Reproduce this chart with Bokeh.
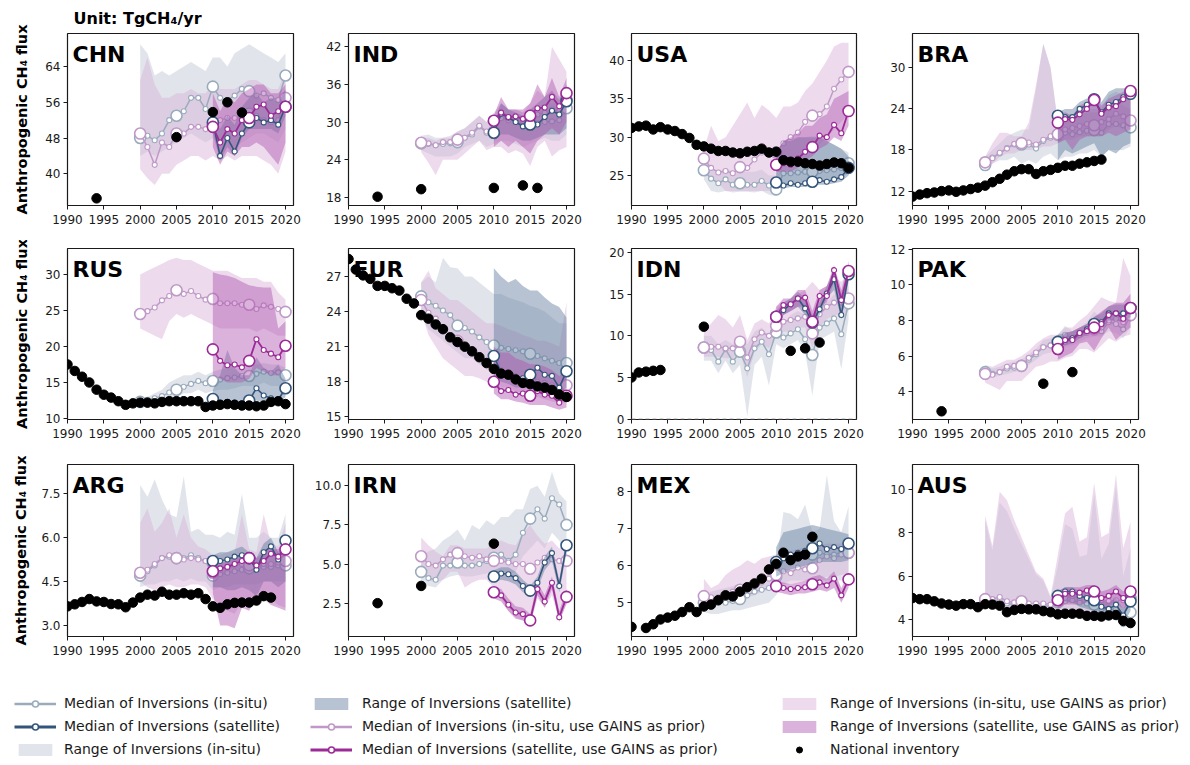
from bokeh.plotting import figure
from bokeh.models import Range1d, FixedTicker, PrintfTickFormatter, Label, Legend, LegendItem, Span
from bokeh.layouts import row, column
from bokeh.embed import file_html
from bokeh.resources import INLINE

FONT = "DejaVu Sans"

# ---------------- data ----------------
YA = list(range(2000, 2021))      # in-situ inversions years
YS = list(range(2010, 2021))      # satellite inversions years
FULL = list(range(1990, 2021))
XTICKS = [1990, 1995, 2000, 2005, 2010, 2015, 2020]

CHN_INS = [48, 48.5, 47.5, 49, 52, 53, 54, 57, 57, 54.5, 59.5, 57, 56.5, 57.5, 59, 58.5, 57.5, 58, 57, 56.5, 62]
CHN_INSG = [49, 46, 42, 47, 46, 49, 49, 50.5, 50.5, 50, 51, 52, 52.5, 52.5, 53, 53.5, 53, 52, 51.5, 52, 57]
CHN_SAT = [51.5, 44, 48, 45, 49, 51.5, 52.5, 51.5, 52, 51, 55]
CHN_SATG = [50.5, 47, 50, 49, 52, 52.5, 55, 55.5, 53, 54, 55]
CHN_INS_LO = [44, 45, 44, 45, 46, 47, 48, 49, 48, 47, 48, 46, 47, 46, 47, 48, 49, 49, 48, 47, 50]
CHN_INS_HI = [69, 67, 62, 63, 62, 63, 64, 65, 64, 63, 66, 66, 64, 67, 68, 69, 68, 67, 66, 65, 67]
CHN_INSG_LO = [41, 39, 37.5, 40, 40, 42, 43, 44, 44, 43, 44, 43, 44, 43, 44, 44, 44, 43, 42, 40, 45]
CHN_INSG_HI = [61, 66, 60, 57, 57, 58, 58, 59, 58, 58, 60, 59, 59, 59, 60, 61, 61, 60, 59, 59, 63]
CHN_SAT_LO = [49, 43, 46, 44, 48, 50, 50, 50, 50, 49, 53]
CHN_SAT_HI = [54, 50, 53, 51, 55, 57, 58, 56, 57, 56, 59]
CHN_SATG_LO = [46, 42, 45, 44, 46, 46, 47, 46, 44, 42, 47]
CHN_SATG_HI = [58, 54, 57, 56, 58, 59, 60, 60, 58, 58, 60]
CHN_INV_YR = [1994, 2005, 2010, 2012, 2014]
CHN_INV = [34.5, 48.2, 53.8, 56.0, 53.7]

IND_INS = [26.6, 26.5, 26.3, 26.5, 26.6, 26.8, 27.5, 28.0, 29.3, 28.3, 28.3, 30.8, 30.6, 30.4, 29.5, 29.6, 29.8, 30.0, 30.1, 30.3, 32.2]
IND_INSG = [26.7, 26.6, 26.3, 26.8, 26.8, 27.2, 27.5, 28.3, 29.4, 28.5, 28.5, 30.6, 30.3, 30.6, 30.2, 30.6, 31.2, 31.5, 32.0, 31.8, 33.5]
IND_SAT = [28.3, 31.3, 30.7, 30.0, 29.3, 29.6, 29.6, 30.8, 31.8, 31.2, 33.3]
IND_SATG = [30.2, 31.5, 30.8, 30.9, 30.5, 31.0, 32.2, 32.3, 34.0, 32.5, 34.6]
IND_INS_LO = [25.5, 25, 24.5, 24.5, 24.5, 25, 26, 26.5, 27, 26, 26.5, 27, 27, 26.5, 26, 26.5, 27, 27.5, 27, 27, 28]
IND_INS_HI = [27.8, 28, 27.5, 27.5, 27.8, 28.5, 29, 30, 31, 30, 31.5, 33, 32, 32, 31.5, 32, 32.5, 33, 33, 33, 35]
IND_INSG_LO = [25.2, 23.5, 21.5, 24, 24, 24, 25, 26, 27, 25.5, 26, 26, 25, 25.5, 25, 23, 26, 27, 24.5, 25.5, 26]
IND_INSG_HI = [27.5, 27.5, 27, 27.5, 27.5, 28.5, 29, 30, 31, 30, 31, 33, 32, 32, 31.5, 33, 35, 34, 42, 40, 38]
IND_SAT_LO = [27, 28, 28, 27.5, 27, 27, 27.5, 28, 28, 28, 29]
IND_SAT_HI = [30, 33, 32, 31.5, 31, 32, 33, 34, 35, 33.5, 36]
IND_SATG_LO = [26, 27, 26, 27, 26, 25, 27, 28, 29, 28, 30]
IND_SATG_HI = [31, 34, 32, 32, 32, 33, 36, 34, 37, 34, 37]
IND_INV_YR = [1994, 2000, 2010, 2014, 2016]
IND_INV = [18.1, 19.3, 19.5, 19.9, 19.5]

USA_INS = [25.7, 24.6, 24.0, 24.5, 23.8, 24.0, 23.8, 23.8, 24.3, 23.7, 23.2, 25.3, 25.3, 25.4, 25.5, 25.5, 25.6, 25.7, 25.8, 26.0, 26.6]
USA_INSG = [27.2, 26.0, 25.4, 25.6, 25.3, 26.1, 26.0, 27.1, 28.0, 28.0, 28.0, 29.2, 30.0, 30.6, 32.0, 32.8, 33.0, 34.0, 36.3, 37.5, 38.5]
USA_SAT = [24.1, 23.7, 24.0, 23.8, 24.0, 24.2, 24.4, 24.2, 24.5, 24.8, 26.0]
USA_SATG = [26.4, 26.6, 26.4, 27.2, 28.1, 28.7, 30.2, 30.0, 31.6, 30.5, 33.4]
USA_INS_LO = [24.5, 23.0, 22.8, 23.0, 22.8, 22.9, 22.9, 22.8, 23.0, 22.5, 22.3, 24.0, 24.0, 24.0, 24.2, 24.3, 24.3, 24.4, 24.4, 24.6, 25.3]
USA_INS_HI = [27.0, 26.0, 25.5, 26.0, 25.5, 25.5, 25.5, 25.5, 25.8, 25.0, 25.0, 29.5, 29.8, 30.0, 30.0, 30.2, 30.0, 29.5, 29.0, 28.5, 28.0]
USA_INSG_LO = [25.5, 24.5, 24.0, 23.0, 23.0, 23.0, 23.0, 23.0, 23.0, 23.0, 23.0, 26.5, 27.0, 27.5, 28.0, 28.5, 29.0, 30.0, 31.0, 32.0, 33.0]
USA_INSG_HI = [28.5, 31.5, 29.5, 30.0, 31.5, 33.0, 34.5, 32.5, 34.2, 33.5, 32.5, 34.0, 34.0, 34.5, 36.0, 37.0, 38.5, 40.0, 41.8, 42.3, 42.3]
USA_SAT_LO = [23.5, 23.3, 23.5, 23.5, 23.5, 23.7, 23.8, 23.8, 24.0, 24.2, 25.0]
USA_SAT_HI = [28.0, 29.5, 29.5, 30.0, 30.0, 30.0, 30.0, 29.5, 29.0, 28.5, 27.5]
USA_SATG_LO = [25.5, 25.5, 25.5, 26.0, 27.0, 27.5, 28.5, 29.0, 30.0, 29.5, 31.5]
USA_SATG_HI = [28.0, 29.5, 30.0, 30.5, 31.5, 31.5, 32.5, 33.0, 35.0, 35.5, 36.0]
USA_INV_YR = FULL
USA_INV = [31.2, 31.4, 31.5, 31.0, 31.3, 31.0, 30.8, 30.4, 29.9, 29.0, 28.8, 28.5, 28.2, 28.2, 28.0, 27.9,
           28.1, 28.2, 28.5, 28.0, 28.1, 27.0, 26.8, 26.8, 26.6, 26.5, 26.3, 26.5, 26.7, 26.6, 26.0]

BRA_INS = [15.8, 16.9, 17.5, 18.3, 18.8, 18.8, 18.8, 18.2, 19.3, 19.8, 20.2, 20.5, 20.3, 20.6, 20.8, 20.9, 20.5, 21.8, 21.8, 21.6, 21.3]
BRA_INSG = [16.2, 16.8, 17.6, 18.2, 18.9, 19.0, 19.1, 18.8, 19.5, 20.0, 20.3, 21.0, 21.2, 21.5, 21.8, 21.6, 22.1, 22.5, 23.3, 22.9, 22.3]
BRA_SAT = [23.0, 22.8, 22.8, 24.0, 24.6, 25.4, 23.5, 24.6, 25.0, 25.7, 26.2]
BRA_SATG = [22.0, 22.5, 22.4, 23.2, 24.0, 25.3, 23.3, 24.2, 24.4, 25.4, 26.6]
BRA_INS_LO = [15.5, 16, 16.5, 16.5, 17, 16, 16.5, 16, 17, 17.5, 16.5, 17, 17, 17.5, 17.5, 18, 17, 18, 18, 18, 18.5]
BRA_INS_HI = [17, 18, 19, 20, 20.5, 21, 21, 27, 33.5, 30, 22, 23, 23, 23.5, 24, 24, 24, 26, 26.5, 26, 26]
BRA_INSG_LO = [15.5, 16, 17, 17.5, 17.5, 18, 18, 18, 18.5, 18.5, 19, 19.5, 19.5, 20, 20, 20, 20, 21, 21.5, 21, 21]
BRA_INSG_HI = [17, 19, 20.5, 20.5, 20, 20, 22, 27.5, 33.5, 30, 22, 23, 22.5, 23, 23.5, 23.5, 23.5, 24.5, 25, 24.5, 24]
BRA_SAT_LO = [16.5, 18, 17.5, 18, 18.5, 19, 17, 18, 17.5, 18.5, 19]
BRA_SAT_HI = [23.5, 24, 24, 25, 25.5, 26, 25, 26.5, 27, 27, 27]
BRA_SATG_LO = [19, 19.5, 18, 19.5, 20, 20, 20, 20.5, 20, 20.5, 21]
BRA_SATG_HI = [23, 23.5, 23, 24.5, 25, 26, 24.5, 25.5, 26, 26.5, 27]
BRA_INV_YR = list(range(1990, 2017))
BRA_INV = [11.2, 11.5, 11.7, 11.8, 12.0, 12.1, 11.9, 12.1, 12.3, 12.5, 12.8, 13.3, 13.8, 14.4, 14.9, 15.2,
           15.2, 14.5, 14.9, 15.1, 15.4, 15.7, 15.7, 16.0, 16.2, 16.4, 16.6]

RUS_INS = [12.3, 12.6, 12.8, 13.1, 13.6, 14.0, 14.4, 14.8, 15.2, 14.9, 15.2, 15.4, 15.6, 15.7, 15.9, 15.9, 16.2, 16.5, 16.3, 16.4, 16.0]
RUS_INSG = [24.5, 24.9, 25.4, 26.4, 27.0, 27.8, 27.3, 27.7, 27.0, 26.5, 26.6, 26.0, 26.0, 26.0, 25.8, 25.8, 25.2, 25.7, 25.5, 25.2, 24.8]
RUS_SAT = [12.7, 12.2, 12.3, 12.2, 12.1, 12.5, 14.2, 13.2, 12.8, 12.6, 14.2]
RUS_SATG = [19.6, 18.0, 17.4, 17.5, 17.1, 18.0, 21.0, 19.5, 19.0, 18.5, 20.1]
RUS_INS_LO = [11.8, 12, 12, 11.8, 12.5, 13, 13.5, 13.5, 14, 13.5, 13.8, 14, 14, 14.2, 14.5, 14.5, 14.5, 15, 14.5, 14.5, 14.5]
RUS_INS_HI = [12.8, 13, 13.5, 14, 15, 15.5, 16, 16, 16.5, 16, 16.5, 16.8, 17, 17.2, 17.3, 17.5, 17.5, 17.7, 17.5, 17.5, 17]
RUS_INSG_LO = [22.5, 22, 21.5, 21, 23.5, 24.5, 24, 24.5, 24, 23.5, 23, 22.5, 22.5, 22.5, 22.5, 22.5, 22, 22.5, 22, 21.5, 21.5]
RUS_INSG_HI = [30, 30.5, 31, 31.5, 32, 32.3, 32, 32, 31.5, 31, 30.5, 30.5, 30.5, 30, 29.5, 29.5, 29.5, 29, 29, 27.5, 26.5]
RUS_SAT_LO = [12, 11.8, 11.8, 11.8, 11.8, 12, 12.5, 12.2, 12, 12, 13]
RUS_SAT_HI = [14, 16, 19.5, 17, 16, 16, 18.5, 17, 16.5, 17.5, 15.5]
RUS_SATG_LO = [16, 15.5, 15, 15, 15, 15.5, 17, 16.5, 16, 16, 17]
RUS_SATG_HI = [30.3, 30, 29.8, 29.5, 29, 28.5, 28.3, 28.2, 28.2, 22.5, 23.5]
RUS_INV_YR = FULL
RUS_INV = [17.5, 16.6, 15.8, 15.0, 14.0, 13.3, 12.9, 12.4, 11.9, 12.1, 12.2, 12.2, 12.1, 12.3, 12.4, 12.4,
           12.4, 12.4, 12.4, 11.6, 11.8, 11.9, 12.0, 11.9, 11.8, 11.8, 11.7, 11.8, 12.3, 12.4, 12.0]

EUR_INS = [25.3, 24.8, 24.5, 24.1, 23.7, 22.8, 22.6, 22.3, 21.8, 21.4, 21.1, 20.9, 20.8, 20.7, 20.6, 20.4, 20.2, 20.0, 19.8, 19.6, 19.6]
EUR_INSG = [25.0, 23.9, 23.4, 22.6, 21.9, 21.5, 21.1, 20.7, 20.2, 19.8, 19.5, 19.0, 18.8, 18.5, 18.3, 18.2, 18.0, 17.9, 17.7, 17.3, 17.7]
EUR_SAT = [20.2, 18.8, 18.5, 18.3, 18.3, 18.6, 19.2, 18.6, 18.5, 17.5, 18.9]
EUR_SATG = [18.0, 17.2, 17.3, 16.9, 17.0, 16.8, 17.2, 16.9, 16.8, 16.2, 16.8]
EUR_INS_LO = [23.5, 22.5, 22, 21.5, 21, 20.5, 20, 20, 19.5, 19, 19, 18.8, 18.6, 18.5, 18.3, 18.2, 18, 18, 17.8, 17.5, 17.5]
EUR_INS_HI = [26.5, 27, 26.5, 28.6, 27.8, 27.7, 27, 27, 26.5, 26, 25.5, 25.5, 25.2, 25, 24.8, 24.5, 24.3, 24, 23.5, 23, 23]
EUR_INSG_LO = [24, 22, 21, 20, 19.5, 19, 18.5, 18.5, 18.3, 18, 17.8, 17.5, 17.5, 17.2, 17, 16.8, 16.7, 16.5, 16.3, 16.2, 16.2]
EUR_INSG_HI = [26.5, 27.5, 26, 25.5, 25, 25, 24.5, 24, 23.5, 23, 23, 22.8, 22.5, 22.3, 22, 21.8, 21.5, 21.5, 21.3, 21, 24.8]
EUR_SAT_LO = [18.5, 18, 17.8, 17.5, 17.5, 17.5, 17.5, 17.3, 17.2, 17, 17.5]
EUR_SAT_HI = [27.7, 27, 26.5, 26.8, 26.2, 25.8, 25.8, 25.2, 24.7, 24.4, 23.5]
EUR_SATG_LO = [17, 16.5, 16.5, 16.3, 16.2, 16, 16, 16, 15.8, 15.6, 15.8]
EUR_SATG_HI = [21, 20.5, 20.5, 20, 19.8, 19.5, 19.5, 19.3, 19, 18.5, 19]
EUR_INV_YR = FULL
EUR_INV = [28.5, 27.6, 27.1, 26.8, 26.2, 26.2, 26.0, 25.8, 25.1, 24.7, 23.7, 23.4, 22.9, 22.5, 21.8, 21.4,
           21.0, 20.6, 20.1, 19.6, 19.1, 18.7, 18.6, 18.2, 17.9, 17.8, 17.6, 17.5, 17.3, 16.9, 16.7]

IDN_INS = [8.6, 8.3, 6.9, 8.4, 6.9, 8.1, 6.1, 8.5, 9.3, 7.8, 10.4, 9.8, 10.3, 10.8, 9.6, 7.7, 11.0, 11.5, 12.1, 10.2, 13.9]
IDN_INSG = [8.6, 8.7, 8.7, 8.5, 8.5, 9.3, 7.4, 9.6, 10.4, 10.0, 11.2, 11.7, 11.9, 12.1, 12.3, 10.3, 12.6, 13.5, 14.0, 14.0, 14.5]
IDN_SAT = [12.3, 13.1, 13.8, 14.5, 13.3, 11.6, 13.2, 15.1, 16.8, 12.5, 17.4]
IDN_SATG = [12.3, 13.7, 13.8, 14.5, 14.6, 11.7, 14.8, 14.8, 17.9, 14.3, 17.8]
IDN_INS_LO = [7, 7, 5.5, 7, 5.5, 6.5, 0.3, 6.5, 7.5, 4, 9, 8.5, 9, 9.5, 8, 2.8, 9.5, 10, 10.5, 6, 12]
IDN_INS_HI = [10, 10, 9, 9.5, 9, 10, 9, 10.5, 11, 10, 12, 11.5, 12.5, 13, 12.5, 12, 13.5, 14, 15, 14, 16]
IDN_INSG_LO = [7.5, 7.5, 7.5, 7.3, 7.3, 8, 5, 8, 9, 8.5, 10, 10.5, 10.5, 11, 11, 8.5, 11, 12, 12.5, 12.5, 13]
IDN_INSG_HI = [10.5, 11.5, 12.5, 12, 11, 12.5, 9.5, 11.5, 12, 11.5, 13.5, 14, 14.5, 15, 15.5, 16.5, 15.5, 16, 17, 16.5, 17.5]
IDN_SAT_LO = [11.5, 12.5, 13, 13.5, 12.5, 11, 12.5, 14.5, 15.5, 12, 16.5]
IDN_SAT_HI = [13, 14, 14.5, 15.3, 14.5, 12.5, 14, 16, 18, 15, 18.5]
IDN_SATG_LO = [11.5, 12.5, 13, 13.5, 13.5, 11, 13.5, 14, 16.5, 13.5, 17]
IDN_SATG_HI = [13.5, 14.5, 14.5, 15.5, 15.5, 13, 15.5, 16, 18.5, 15.5, 19]
IDN_INV_YR = [1990, 1991, 1992, 1993, 1994, 2000, 2012, 2014, 2016]
IDN_INV = [5.0, 5.6, 5.7, 5.8, 5.9, 11.1, 8.2, 8.5, 9.2]

PAK_INS = [5.1, 5.0, 5.1, 5.3, 5.35, 5.45, 5.8, 6.1, 6.5, 6.6, 6.8, 7.2, 7.0, 7.2, 7.4, 7.6, 7.4, 7.9, 7.8, 7.5, 8.3]
PAK_INSG = [5.0, 4.95, 5.1, 5.4, 5.45, 5.45, 5.9, 6.2, 6.5, 6.6, 6.4, 6.8, 6.9, 7.2, 7.3, 7.5, 7.6, 8.0, 8.1, 7.9, 8.3]
PAK_SAT = [6.8, 6.9, 7.0, 7.3, 7.5, 7.8, 7.9, 8.4, 8.4, 8.4, 8.7]
PAK_SATG = [6.4, 6.9, 6.9, 7.3, 7.4, 7.6, 7.8, 8.3, 8.4, 8.1, 8.7]
PAK_INS_LO = [4.8, 4.8, 4.9, 5.0, 5.1, 5.2, 5.5, 5.8, 6.1, 6.2, 6.3, 6.5, 6.6, 6.8, 7.0, 7.1, 7.1, 7.4, 7.3, 7.0, 7.6]
PAK_INS_HI = [5.4, 5.3, 5.4, 5.6, 5.7, 5.8, 6.1, 6.4, 6.9, 7.0, 7.2, 7.7, 7.4, 7.6, 7.9, 8.5, 8.1, 8.5, 8.6, 8.6, 8.8]
PAK_INSG_LO = [4.5, 4.3, 4.1, 4.6, 4.6, 4.6, 5.0, 5.4, 5.5, 5.7, 5.7, 5.9, 6.0, 6.4, 6.4, 6.2, 6.6, 7.0, 6.8, 7.1, 7.2]
PAK_INSG_HI = [5.5, 5.4, 5.6, 5.8, 5.8, 6.0, 6.3, 6.7, 7.0, 7.2, 7.2, 7.6, 7.6, 8.0, 8.3, 8.8, 9.3, 9.1, 9.0, 11.5, 10.5]
PAK_SAT_LO = [6.5, 6.6, 6.7, 7.0, 7.2, 7.4, 7.5, 8.0, 8.0, 7.9, 8.2]
PAK_SAT_HI = [7.2, 7.3, 7.4, 7.6, 7.8, 8.2, 8.4, 8.8, 8.9, 8.9, 9.0]
PAK_SATG_LO = [5.8, 6.0, 6.2, 6.7, 6.8, 6.3, 7.0, 7.6, 6.9, 7.3, 7.6]
PAK_SATG_HI = [6.8, 7.3, 7.4, 7.6, 7.8, 8.2, 8.5, 8.8, 9.0, 9.0, 9.5]
PAK_INV_YR = [1994, 2008, 2012]
PAK_INV = [2.9, 4.45, 5.1]

ARG_INS = [4.7, 4.85, 5.05, 5.3, 5.35, 5.3, 5.3, 5.4, 5.3, 5.2, 4.7, 4.75, 4.8, 4.85, 4.9, 4.95, 4.95, 5.0, 5.0, 5.05, 5.05]
ARG_INSG = [4.8, 4.9, 5.1, 5.3, 5.4, 5.3, 5.25, 5.3, 5.25, 5.2, 4.8, 4.9, 4.95, 5.05, 5.1, 5.05, 5.0, 5.1, 5.1, 5.15, 5.2]
ARG_SAT = [5.2, 5.2, 5.25, 5.35, 5.4, 5.3, 4.9, 5.5, 5.7, 5.25, 5.9]
ARG_SATG = [4.85, 4.95, 5.0, 5.1, 5.2, 5.3, 5.05, 5.2, 5.45, 5.35, 5.6]
ARG_INS_LO = [4.3, 4.4, 4.4, 4.5, 4.5, 4.6, 4.5, 4.6, 4.5, 4.5, 4.2, 4.3, 4.3, 4.4, 4.4, 4.4, 4.4, 4.5, 4.5, 4.5, 4.5]
ARG_INS_HI = [7.8, 7.4, 8.0, 7.3, 6.8, 6.7, 8.1, 6.2, 6.3, 6.1, 6.1, 6.0, 6.2, 6.1, 7.5, 6.0, 6.0, 6.2, 6.0, 6.0, 6.8]
ARG_INSG_LO = [4.5, 4.3, 4.2, 4.3, 4.4, 4.3, 4.3, 4.4, 4.4, 4.3, 3.9, 3.7, 3.5, 3.4, 3.8, 3.7, 4.1, 4.0, 3.9, 3.7, 3.6]
ARG_INSG_HI = [6.5, 7.0, 6.2, 6.5, 7.0, 6.0, 6.8, 6.0, 5.7, 5.6, 5.4, 5.4, 5.5, 5.5, 6.8, 5.6, 5.5, 6.8, 5.8, 5.7, 6.5]
ARG_SAT_LO = [4.3, 4.3, 4.2, 4.2, 4.3, 4.2, 4.0, 4.5, 4.5, 4.3, 4.5]
ARG_SAT_HI = [5.4, 5.5, 5.5, 5.6, 5.7, 5.5, 5.3, 5.8, 6.0, 5.5, 6.0]
ARG_SATG_LO = [4.1, 3.0, 3.0, 2.9, 3.6, 3.5, 4.0, 3.9, 3.7, 3.6, 3.5]
ARG_SATG_HI = [5.1, 5.1, 5.2, 5.3, 5.4, 5.5, 5.3, 5.5, 5.6, 5.6, 5.9]
ARG_INV_YR = list(range(1990, 2019))
ARG_INV = [3.65, 3.72, 3.8, 3.9, 3.82, 3.8, 3.73, 3.72, 3.62, 3.78, 3.95, 4.05, 4.02, 4.15, 4.05, 4.05,
           4.1, 4.05, 4.1, 3.9, 3.65, 3.6, 3.72, 3.77, 3.78, 3.78, 3.85, 4.0, 3.95]

IRN_INS = [4.5, 4.1, 4.0, 4.9, 4.9, 5.1, 4.9, 4.9, 5.0, 5.2, 5.4, 5.6, 5.2, 5.6, 7.0, 7.9, 8.5, 7.9, 9.2, 8.8, 7.5]
IRN_INSG = [5.5, 5.0, 4.9, 5.3, 5.6, 5.7, 5.5, 5.4, 5.5, 5.3, 5.2, 5.2, 5.1, 5.0, 5.0, 4.7, 5.1, 5.4, 5.3, 5.2, 5.2]
IRN_SAT = [4.2, 4.4, 4.35, 4.1, 3.6, 3.3, 3.8, 5.1, 5.7, 3.6, 6.2]
IRN_SATG = [3.2, 3.0, 2.4, 1.9, 1.8, 1.4, 3.4, 2.6, 3.8, 1.6, 2.9]
IRN_INS_LO = [3.8, 3.6, 3.5, 4.0, 4.2, 4.3, 4.2, 4.2, 4.3, 4.4, 4.5, 4.5, 4.3, 4.5, 5.5, 6.0, 6.5, 6.0, 7.0, 6.5, 5.5]
IRN_INS_HI = [5.5, 5.8, 6.0, 6.5, 6.8, 7.2, 6.5, 7.5, 7.2, 7.8, 7.5, 8.0, 8.0, 8.5, 8.5, 9.8, 10.0, 9.3, 10.9, 9.5, 9.0]
IRN_INSG_LO = [4.5, 4.0, 3.8, 4.0, 4.5, 4.5, 3.5, 3.8, 4.0, 4.0, 3.5, 2.8, 2.0, 1.6, 1.4, 1.1, 2.8, 2.2, 3.0, 1.4, 2.4]
IRN_INSG_HI = [6.7, 6.2, 5.8, 5.5, 6.2, 6.2, 6.0, 6.0, 6.0, 6.0, 6.3, 6.5, 6.3, 6.2, 7.0, 7.5, 6.8, 6.3, 6.5, 6.0, 6.3]
IRN_SAT_LO = [3.8, 4.0, 3.9, 3.7, 3.2, 3.0, 3.4, 4.6, 5.2, 3.2, 5.7]
IRN_SAT_HI = [4.6, 4.8, 4.8, 4.5, 4.0, 3.6, 4.2, 5.5, 6.1, 4.0, 6.6]
IRN_SATG_LO = [2.8, 2.6, 2.0, 1.5, 1.4, 1.1, 3.0, 2.2, 3.4, 1.3, 2.5]
IRN_SATG_HI = [3.6, 3.4, 2.8, 2.3, 2.2, 1.8, 3.8, 3.0, 4.2, 2.0, 3.4]
IRN_INV_YR = [1994, 2000, 2010]
IRN_INV = [2.5, 3.6, 6.3]

MEX_INS = [5.0, 5.0, 5.0, 5.0, 5.05, 5.1, 5.2, 5.3, 5.35, 5.4, 5.7, 6.2, 6.25, 6.3, 6.3, 6.3, 6.35, 6.3, 6.3, 6.35, 6.35]
MEX_INSG = [5.18, 5.15, 5.15, 5.2, 5.3, 5.35, 5.4, 5.45, 5.55, 5.65, 5.75, 5.85, 5.8, 5.95, 5.9, 5.93, 6.15, 6.25, 6.2, 6.3, 6.35]
MEX_SAT = [6.1, 6.2, 6.3, 6.35, 6.4, 6.47, 6.6, 6.45, 6.5, 6.45, 6.6]
MEX_SATG = [5.45, 5.4, 5.37, 5.4, 5.42, 5.5, 5.55, 5.47, 5.65, 5.2, 5.63]
MEX_INS_LO = [4.75, 4.7, 4.7, 4.75, 4.8, 4.8, 4.85, 4.9, 4.95, 5.0, 5.2, 5.5, 5.6, 5.6, 5.6, 5.6, 5.6, 5.6, 5.6, 5.6, 5.6]
MEX_INS_HI = [5.2, 5.3, 5.35, 5.4, 5.45, 5.5, 5.55, 5.6, 5.7, 5.8, 6.0, 7.45, 7.4, 7.25, 7.65, 6.9, 7.0, 8.45, 7.2, 6.9, 7.6]
MEX_INSG_LO = [4.85, 4.9, 4.95, 5.0, 5.05, 5.1, 5.15, 5.2, 5.3, 5.35, 5.5, 5.5, 5.5, 5.55, 5.6, 5.6, 5.65, 5.7, 5.7, 5.75, 5.8]
MEX_INSG_HI = [5.65, 5.4, 5.5, 5.75, 5.9, 6.0, 6.15, 6.05, 6.2, 6.25, 6.3, 6.4, 6.4, 6.45, 6.5, 6.5, 6.55, 6.6, 6.6, 6.6, 6.65]
MEX_SAT_LO = [5.7, 5.8, 5.9, 5.95, 6.0, 6.05, 6.1, 6.1, 6.1, 6.1, 6.15]
MEX_SAT_HI = [6.5, 6.9, 6.95, 7.0, 7.05, 7.1, 7.05, 7.0, 6.95, 6.9, 6.85]
MEX_SATG_LO = [5.3, 5.25, 5.2, 5.25, 5.25, 5.3, 5.35, 5.3, 5.4, 5.0, 5.4]
MEX_SATG_HI = [5.6, 5.55, 5.5, 5.55, 5.6, 5.7, 5.75, 5.65, 5.85, 5.4, 5.8]
MEX_INV_YR = [1990] + list(range(1992, 2016))
MEX_INV = [4.35, 4.32, 4.42, 4.55, 4.6, 4.65, 4.75, 4.88, 4.75, 4.9, 4.95, 5.07, 5.2, 5.17, 5.3, 5.42,
           5.52, 5.65, 5.9, 6.05, 6.35, 6.15, 6.25, 6.3, 6.78]

AUS_INS = [4.9, 4.85, 4.9, 4.75, 4.7, 4.75, 4.65, 4.65, 4.65, 4.6, 4.8, 4.85, 4.9, 4.8, 4.75, 4.7, 4.5, 4.45, 4.5, 3.8, 4.35]
AUS_INSG = [4.95, 4.95, 5.05, 4.85, 4.8, 4.85, 4.75, 4.75, 4.75, 4.7, 4.9, 5.0, 5.1, 5.0, 5.1, 5.05, 4.9, 4.85, 4.9, 4.9, 5.0]
AUS_SAT = [5.1, 5.3, 5.3, 5.1, 5.0, 4.9, 4.6, 4.5, 4.7, 4.2, 4.85]
AUS_SATG = [4.9, 5.2, 5.2, 5.25, 5.35, 5.3, 5.0, 5.1, 5.3, 5.0, 5.3]
AUS_INS_LO = [4.5, 4.5, 4.5, 4.4, 4.4, 4.4, 4.3, 4.3, 4.3, 4.3, 4.3, 4.4, 4.4, 4.3, 4.3, 4.2, 4.0, 4.0, 4.0, 3.7, 3.9]
AUS_INS_HI = [8.6, 7.2, 9.4, 9.0, 8.2, 7.5, 6.8, 6.1, 5.8, 5.0, 6.5, 8.4, 8.2, 6.9, 7.0, 9.8, 6.8, 7.5, 10.2, 6.0, 7.3]
AUS_INSG_LO = [4.6, 4.6, 4.6, 4.5, 4.5, 4.5, 4.4, 4.4, 4.4, 4.4, 4.4, 4.5, 4.5, 4.4, 4.4, 4.3, 4.2, 4.2, 4.2, 4.0, 4.2]
AUS_INSG_HI = [8.8, 7.4, 9.9, 9.5, 8.6, 7.8, 7.0, 6.2, 5.9, 5.1, 7.0, 8.9, 9.2, 7.6, 7.8, 10.3, 7.8, 8.0, 10.7, 7.3, 8.5]
AUS_SAT_LO = [4.7, 4.8, 4.8, 4.6, 4.5, 4.4, 4.2, 4.1, 4.3, 3.8, 4.4]
AUS_SAT_HI = [5.3, 5.5, 5.5, 5.3, 5.2, 5.1, 4.9, 4.8, 5.0, 4.5, 5.1]
AUS_SATG_LO = [4.5, 4.7, 4.7, 4.7, 4.8, 4.8, 4.5, 4.6, 4.8, 4.5, 4.8]
AUS_SATG_HI = [5.3, 5.5, 5.5, 5.5, 5.6, 5.6, 5.3, 5.4, 5.6, 5.3, 5.6]
AUS_INV_YR = FULL
AUS_INV = [5.0, 4.95, 4.95, 4.85, 4.75, 4.7, 4.65, 4.72, 4.72, 4.58, 4.72, 4.7, 4.65, 4.35, 4.45, 4.5,
           4.48, 4.48, 4.4, 4.35, 4.25, 4.28, 4.28, 4.28, 4.18, 4.18, 4.15, 4.2, 4.22, 3.95, 3.85]

NAMES = ["CHN", "IND", "USA", "BRA", "RUS", "EUR", "IDN", "PAK", "ARG", "IRN", "MEX", "AUS"]
YTICKS = {"CHN": [40, 48, 56, 64], "IND": [18, 24, 30, 36, 42], "USA": [25, 30, 35, 40],
          "BRA": [12, 18, 24, 30], "RUS": [10, 15, 20, 25, 30], "EUR": [15, 18, 21, 24, 27],
          "IDN": [0, 5, 10, 15, 20], "PAK": [4, 6, 8, 10, 12], "ARG": [3.0, 4.5, 6.0, 7.5],
          "IRN": [2.5, 5.0, 7.5, 10.0], "MEX": [5, 6, 7, 8], "AUS": [4, 6, 8, 10]}
LEGEND_LABELS = ["Median of Inversions (in-situ)", "Median of Inversions (satellite)",
                 "Range of Inversions (in-situ)", "Range of Inversions (satellite)",
                 "Median of Inversions (in-situ, use GAINS as prior)",
                 "Median of Inversions (satellite, use GAINS as prior)",
                 "Range of Inversions (in-situ, use GAINS as prior)",
                 "Range of Inversions (satellite, use GAINS as prior)", "National inventory"]

# ---------------- style / layout ----------------
YLIM = {"CHN": (32.9, 71.4), "IND": (16.7, 44.1), "USA": (21.1, 43.5), "BRA": (9.9, 35.0),
        "RUS": (9.86, 33.6), "EUR": (14.77, 29.4), "IDN": (-0.05, 20.5), "PAK": (2.44, 12.04),
        "ARG": (2.62, 8.5), "IRN": (0.37, 11.36), "MEX": (4.09, 8.73), "AUS": (3.23, 11.15)}
YFMT = {"ARG": "%.1f", "IRN": "%.1f"}

C_INS, C_SAT, C_INSG, C_SATG = "#9aabbd", "#34557a", "#c099c8", "#9c2a97"
F_INS, F_SAT, F_INSG, F_SATG = "#bcc5d2", "#5f7a9b", "#d8b0d8", "#b055b0"
A_FILL = 0.45
INK = "#1a1a1a"

COL_BL = [67, 47, 49, 48]
COL_FW = [226, 226, 225, 226]
BR = 8
ROW_BT = [33, 8, 8]
ROW_FH = [172, 171, 172]
ROW_BB = [35, 37, 30]
YLAB_STANDOFF = [12, 12, 9]


def pack(name):
    g = globals()
    keys = ["INS", "INSG", "SAT", "SATG", "INS_LO", "INS_HI", "INSG_LO", "INSG_HI",
            "SAT_LO", "SAT_HI", "SATG_LO", "SATG_HI", "INV_YR", "INV"]
    return {k: g[f"{name}_{k}"] for k in keys}


def draw_median(p, xs, ys, color, lw):
    p.line(xs, ys, line_color=color, line_width=lw)
    p.scatter(xs, ys, marker="circle", size=5, fill_color="white", line_color=color, line_width=1.1)
    bx = [x for x in xs if x % 5 == 0]
    by = [y for x, y in zip(xs, ys) if x % 5 == 0]
    p.scatter(bx, by, marker="circle", size=11, fill_color="white", line_color=color, line_width=1.6)


def make_panel(idx, name):
    r, c = divmod(idx, 4)
    d = pack(name)
    w = COL_BL[c] + COL_FW[c] + BR
    h = ROW_BT[r] + ROW_FH[r] + ROW_BB[r]
    p = figure(width=w, height=h, x_range=Range1d(1990, 2021.1), y_range=Range1d(*YLIM[name]),
               output_backend="svg", toolbar_location=None,
               title=("Unit: TgCH\u2084/yr" if idx == 0 else None),
               min_border_left=COL_BL[c], min_border_right=BR,
               min_border_top=ROW_BT[r], min_border_bottom=ROW_BB[r])
    if idx == 0:
        p.title.text_font = FONT
        p.title.text_font_size = "16px"
        p.title.text_font_style = "bold"
        p.title.text_color = "black"
        p.title.align = "left"
        p.title.offset = 6
        p.title.standoff = 11
    p.grid.visible = False
    p.background_fill_color = "white"
    p.border_fill_color = "white"
    p.outline_line_color = INK
    p.outline_line_width = 1.2
    p.xaxis.ticker = FixedTicker(ticks=XTICKS)
    p.yaxis.ticker = FixedTicker(ticks=YTICKS[name])
    p.yaxis.formatter = PrintfTickFormatter(format=YFMT.get(name, "%d"))
    for ax in p.xaxis + p.yaxis:
        ax.axis_line_color = None
        ax.major_tick_line_color = INK
        ax.major_tick_out = 4
        ax.major_tick_in = 0
        ax.minor_tick_line_color = None
        ax.major_label_text_font = FONT
        ax.major_label_text_font_size = "12px"
        ax.major_label_text_color = INK
    p.xaxis.major_label_standoff = 5
    p.yaxis.major_label_standoff = 3
    if c == 0:
        p.yaxis.axis_label = "Anthropogenic CH\u2084 flux"
        p.yaxis.axis_label_text_font = FONT
        p.yaxis.axis_label_text_font_size = "14.5px"
        p.yaxis.axis_label_text_font_style = "bold"
        p.yaxis.axis_label_text_color = "black"
        p.yaxis.axis_label_standoff = YLAB_STANDOFF[r]

    if name == "IDN":
        p.add_layout(Span(location=0, dimension="width", line_color="#999999",
                          line_dash="4 3", line_width=1))

    p.varea(x=YA, y1=d["INS_LO"], y2=d["INS_HI"], fill_color=F_INS, fill_alpha=A_FILL)
    p.varea(x=YA, y1=d["INSG_LO"], y2=d["INSG_HI"], fill_color=F_INSG, fill_alpha=A_FILL)
    draw_median(p, YA, d["INS"], C_INS, 1.5)
    draw_median(p, YA, d["INSG"], C_INSG, 1.5)
    p.varea(x=YS, y1=d["SAT_LO"], y2=d["SAT_HI"], fill_color=F_SAT, fill_alpha=A_FILL)
    p.varea(x=YS, y1=d["SATG_LO"], y2=d["SATG_HI"], fill_color=F_SATG, fill_alpha=A_FILL)
    draw_median(p, YS, d["SAT"], C_SAT, 1.6)
    draw_median(p, YS, d["SATG"], C_SATG, 1.8)
    p.scatter(d["INV_YR"], d["INV"], marker="circle", size=9.5, fill_color="black", line_color="black")

    p.add_layout(Label(x=1990, y=YLIM[name][1], x_offset=5, y_offset=-8, text=name,
                       text_font=FONT, text_font_size="22px", text_font_style="bold",
                       text_baseline="top", text_color="black"))
    return p


panels = [make_panel(i, n) for i, n in enumerate(NAMES)]

# ---------------- legend ----------------
lf = figure(width=1190, height=99, x_range=Range1d(0, 1), y_range=Range1d(0, 1),
            output_backend="svg", toolbar_location=None, title=None, min_border=0,
            x_axis_type=None, y_axis_type=None)
lf.outline_line_color = None
lf.background_fill_color = "white"
lf.border_fill_color = "white"

# proxy renderers reuse the AUS series (they lie outside the legend figure's 0..1 ranges)
def med_proxy(xs, ys, color, lw):
    l = lf.line(xs, ys, line_color=color, line_width=lw + 1.2)
    m = lf.scatter(xs, ys, marker="circle", size=9, fill_color="white", line_color=color, line_width=1.6)
    return [l, m]

def rng_proxy(xs, lo, hi, color):
    return [lf.varea(x=xs, y1=lo, y2=hi, fill_color=color, fill_alpha=A_FILL)]

proxies = [
    med_proxy(YA, AUS_INS, C_INS, 1.5),
    med_proxy(YS, AUS_SAT, C_SAT, 1.6),
    rng_proxy(YA, AUS_INS_LO, AUS_INS_HI, F_INS),
    rng_proxy(YS, AUS_SAT_LO, AUS_SAT_HI, F_SAT),
    med_proxy(YA, AUS_INSG, C_INSG, 1.5),
    med_proxy(YS, AUS_SATG, C_SATG, 1.8),
    rng_proxy(YA, AUS_INSG_LO, AUS_INSG_HI, F_INSG),
    rng_proxy(YS, AUS_SATG_LO, AUS_SATG_HI, F_SATG),
    [lf.scatter(AUS_INV_YR, AUS_INV, marker="circle", size=10, fill_color="black", line_color="black")],
]

LEG_X = [14, 310, 778]
LEG_STANDOFF = [8, 10, 10]
for k in range(3):
    items = [LegendItem(label=LEGEND_LABELS[3 * k + j], renderers=proxies[3 * k + j]) for j in range(3)]
    leg = Legend(items=items, location=(LEG_X[k], 8), orientation="vertical",
                 glyph_width=42, glyph_height=15, label_height=15, spacing=7,
                 padding=0, margin=0, label_standoff=LEG_STANDOFF[k],
                 border_line_color=None, background_fill_alpha=0,
                 label_text_font=FONT, label_text_font_size="14px", label_text_color=INK)
    lf.add_layout(leg)

layout = column(row(*panels[0:4]), row(*panels[4:8]), row(*panels[8:12]), lf)

open("out.html", "w").write(file_html(layout, INLINE))
